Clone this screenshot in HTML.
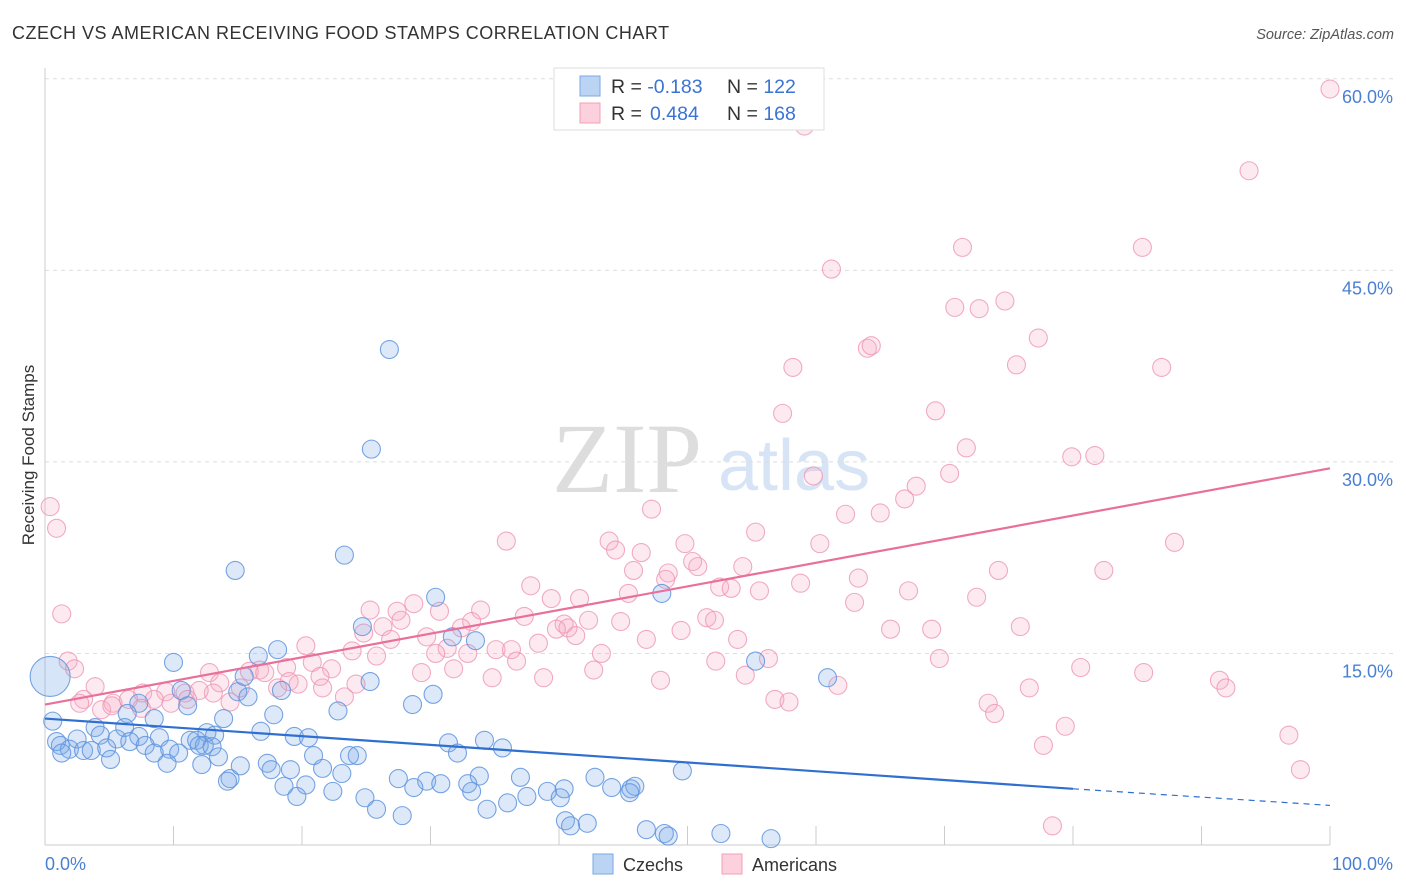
<!DOCTYPE html>
<html><head><meta charset="utf-8"><style>
body{margin:0;background:#fff;font-family:"Liberation Sans",sans-serif}
svg{display:block}
</style></head><body>
<svg id="chart" width="1406" height="892">
<text x="12" y="39" font-size="18" letter-spacing="0.5" fill="#333">CZECH VS AMERICAN RECEIVING FOOD STAMPS CORRELATION CHART</text>
<text x="1394" y="39" font-size="14.5" fill="#555" font-style="italic" text-anchor="end">Source: ZipAtlas.com</text>
<g>
<text x="552" y="492" font-size="100" font-family="Liberation Serif,serif" fill="#ddd">ZIP</text>
<text x="718" y="490" font-size="72" fill="#d6e4f5">atlas</text>
</g>
<g id="grid"></g><g id="axes"></g><g id="pts"></g><g id="trends"></g>
<text transform="translate(34,455) rotate(-90)" font-size="17" fill="#333" text-anchor="middle">Receiving Food Stamps</text>
<g>
<rect x="554" y="68" width="270" height="62" fill="#fff" stroke="#ddd"/>
<rect x="580" y="76" width="20" height="20" fill="#bcd4f4" stroke="#7aa8e4"/>
<rect x="580" y="103" width="20" height="20" fill="#fcd0dd" stroke="#f0a0b8"/>
<text x="611" y="93" font-size="19.5" fill="#333">R = <tspan fill="#3b73d4">-0.183</tspan><tspan x="727">N = </tspan><tspan fill="#3b73d4">122</tspan></text>
<text x="611" y="120" font-size="19.5" fill="#333">R = <tspan fill="#3b73d4" x="650">0.484</tspan><tspan x="727">N = </tspan><tspan fill="#3b73d4">168</tspan></text>
</g>
<g>
<rect x="593" y="854" width="20" height="20" fill="#bcd4f4" stroke="#7aa8e4"/>
<text x="623" y="871" font-size="18" fill="#333">Czechs</text>
<rect x="722" y="854" width="20" height="20" fill="#fcd0dd" stroke="#f0a0b8"/>
<text x="752" y="871" font-size="18" fill="#333">Americans</text>
</g>
</svg>
<script>
const yTicks=[15,30,45,60];
const yTickLabels=["15.0%","30.0%","45.0%","60.0%"];
const xTickLabels=["0.0%","100.0%"];
const czechX=[26.8,25.4,23.3,14.8,30.4,48.0,24.7,31.7,33.5,18.1,16.6,10.0,55.3,15.5,25.3,60.9,10.6,15.0,18.4,15.8,30.2,11.1,28.6,7.3,22.8,6.4,17.8,8.5,13.9,0.6,3.9,6.2,16.8,12.6,4.3,13.2,2.5,19.4,7.3,5.6,8.9,11.3,11.8,0.9,6.6,20.5,34.2,31.4,7.8,12.4,1.2,12.0,13.0,1.9,3.0,3.6,4.8,1.3,9.7,10.4,8.5,35.6,20.9,23.7,24.3,32.1,5.1,13.5,9.5,12.2,17.3,15.2,21.6,17.6,19.1,23.1,49.6,37.0,33.8,42.8,14.4,14.2,27.5,29.7,30.8,28.7,32.9,40.4,44.1,45.6,45.9,18.6,20.3,33.2,39.1,45.5,22.4,19.6,24.9,37.5,40.1,36.0,34.4,25.8,27.8,40.5,42.2,40.9,46.8,48.2,48.5,52.6,56.5];
const czechY=[38.8,31.0,22.7,21.5,19.4,19.7,17.1,16.3,16.0,15.3,14.8,14.3,14.4,13.2,12.8,13.1,12.1,12.0,12.1,11.6,11.8,10.9,11.0,11.1,10.5,10.3,10.2,9.9,9.9,9.7,9.2,9.2,8.9,8.8,8.6,8.6,8.3,8.5,8.5,8.3,8.4,8.2,8.2,8.1,8.1,8.4,8.2,8.0,7.8,7.8,7.8,7.8,7.7,7.5,7.4,7.4,7.6,7.2,7.5,7.2,7.2,7.6,7.0,7.0,7.0,7.2,6.7,6.9,6.4,6.3,6.4,6.2,6.0,5.9,5.9,5.6,5.8,5.3,5.4,5.3,5.2,5.0,5.2,5.0,4.8,4.5,4.8,4.4,4.5,4.4,4.6,4.6,4.7,4.2,4.2,4.1,4.2,3.8,3.7,3.8,3.7,3.3,2.8,2.8,2.3,1.9,1.7,1.5,1.2,0.9,0.7,0.9,0.5];
const czechBigX=[0.4], czechBigY=[13.2];
const amerX=[100,59.1,93.7,71.4,85.4,61.2,74.7,70.8,72.7,77.3,64.0,64.3,58.2,75.6,86.9,69.3,57.4,71.7,79.9,81.7,59.8,70.4,67.8,66.9,62.3,65.0,47.2,0.4,0.9,55.3,35.9,43.9,60.3,49.8,87.9,44.4,46.4,50.4,50.8,54.3,45.8,48.5,74.2,82.4,48.3,63.3,58.8,37.8,52.5,53.4,55.6,45.4,67.2,72.5,39.4,41.6,28.7,63.0,25.3,30.7,33.9,27.4,37.3,51.5,52.1,33.2,27.7,42.3,44.8,40.4,1.3,40.7,39.8,26.3,32.4,65.8,69.0,75.9,49.5,24.8,41.3,29.7,26.9,53.9,46.8,38.4,20.3,31.3,35.1,36.3,30.4,43.3,23.9,32.9,25.8,36.7,52.2,56.3,69.6,20.8,1.8,2.3,31.8,16.7,22.3,18.8,15.9,17.1,12.8,80.6,85.5,21.4,42.7,54.5,29.3,19.0,13.6,19.7,34.8,38.8,47.9,61.7,91.4,24.2,18.1,21.6,76.6,91.9,3.9,15.2,9.4,10.9,13.1,12.0,7.6,3.0,2.7,5.3,6.5,8.5,9.8,11.1,14.4,23.3,56.8,57.9,73.4,4.4,7.5,73.9,79.4,77.7,96.8,97.7,78.4,5.2];
const amerY=[59.2,56.3,52.8,46.8,46.8,45.1,42.6,42.1,42.0,39.7,38.9,39.1,37.4,37.6,37.4,34.0,33.8,31.1,30.4,30.5,28.9,29.1,28.1,27.1,25.9,26.0,26.3,26.5,24.8,24.5,23.8,23.8,23.6,23.6,23.7,23.1,22.9,22.2,21.8,21.8,21.5,21.3,21.5,21.5,20.8,20.9,20.5,20.3,20.2,20.1,19.9,19.7,19.9,19.4,19.3,19.3,18.9,19.0,18.4,18.3,18.4,18.3,17.9,17.8,17.6,17.5,17.6,17.6,17.5,17.3,18.1,17.0,16.9,17.1,17.0,16.9,16.9,17.1,16.8,16.6,16.4,16.3,16.1,16.1,16.1,15.8,15.6,15.4,15.3,15.3,15.0,15.0,15.2,15.0,14.8,14.4,14.4,14.6,14.6,14.3,14.4,13.8,13.8,13.7,13.8,13.9,13.6,13.5,13.5,13.9,13.5,13.2,13.7,13.3,13.5,12.8,12.7,12.6,13.1,13.1,12.9,12.5,12.9,12.6,12.3,12.3,12.3,12.3,12.4,12.3,12.0,11.9,11.9,12.1,11.9,11.4,11.1,11.1,11.4,11.4,11.1,11.4,11.2,11.6,11.4,11.2,11.1,10.6,10.7,10.3,9.3,7.8,8.6,5.9,1.5,10.9];
const czechTrend=[9.9,4.4,3.1]; const czechTrendX=[0,80,100];
const amerTrend=[11.0,29.5]; const amerTrendX=[0,100];

const X=v=>45+v*12.85, Y=v=>845-v*12.77;
const NS="http://www.w3.org/2000/svg";
function mk(parent,tag,attrs){const e=document.createElementNS(NS,tag);for(const k in attrs)e.setAttribute(k,attrs[k]);document.getElementById(parent).appendChild(e);return e;}
yTicks.forEach((t,i)=>{
 const g=mk('grid','line',{x1:45,x2:1394,y1:Y(t),y2:Y(t),stroke:'#ddd','stroke-dasharray':'4,4'});
 
 
 const l=mk('axes','text',{x:1393,y:Y(t)+24,'font-size':18,fill:'#4a7fd4','text-anchor':'end'});
 l.textContent=yTickLabels[i];
 
 
});
const ax=mk('axes','line',{x1:45,x2:1330,y1:845,y2:845,stroke:'#ccc'});


const ay=mk('axes','line',{x1:45,x2:45,y1:68,y2:845,stroke:'#ccc'});


for(let i=1;i<=10;i++){const t=mk('axes','line',{x1:X(i*10),x2:X(i*10),y1:826,y2:845,stroke:'#ccc'});
 
 }
[[0,45,'start'],[100,1393,'end']].forEach((d,i)=>{const l=mk('axes','text',{x:d[1],y:870,'font-size':18,fill:'#4a7fd4','text-anchor':d[2]});l.textContent=xTickLabels[i];
 
 });
function dot(x,y,r,fill,stroke,name){const c=mk('pts','circle',{cx:X(x),cy:Y(y),r:r,fill:fill,stroke:stroke,'stroke-width':1.1});
 
 }
amerX.forEach((x,i)=>dot(x,amerY[i],9,'rgba(246,170,195,0.25)','rgba(238,150,180,0.8)','american-point'));
czechX.forEach((x,i)=>dot(x,czechY[i],9,'rgba(120,168,230,0.25)','rgba(95,148,222,0.85)','czech-point'));
czechBigX.forEach((x,i)=>dot(x,czechBigY[i],20,'rgba(120,168,230,0.3)','rgba(95,148,222,0.85)','czech-point-large'));
const t1=mk('trends','line',{x1:X(czechTrendX[0]),y1:Y(czechTrend[0]),x2:X(czechTrendX[1]),y2:Y(czechTrend[1]),stroke:'#2f6fd0','stroke-width':2.2});


const t2=mk('trends','line',{x1:X(czechTrendX[1]),y1:Y(czechTrend[1]),x2:X(czechTrendX[2]),y2:Y(czechTrend[2]),stroke:'#2f6fd0','stroke-width':1.2,'stroke-dasharray':'6,5'});


const t3=mk('trends','line',{x1:X(amerTrendX[0]),y1:Y(amerTrend[0]),x2:X(amerTrendX[1]),y2:Y(amerTrend[1]),stroke:'#e8709a','stroke-width':2.2});


</script>
</body></html>
